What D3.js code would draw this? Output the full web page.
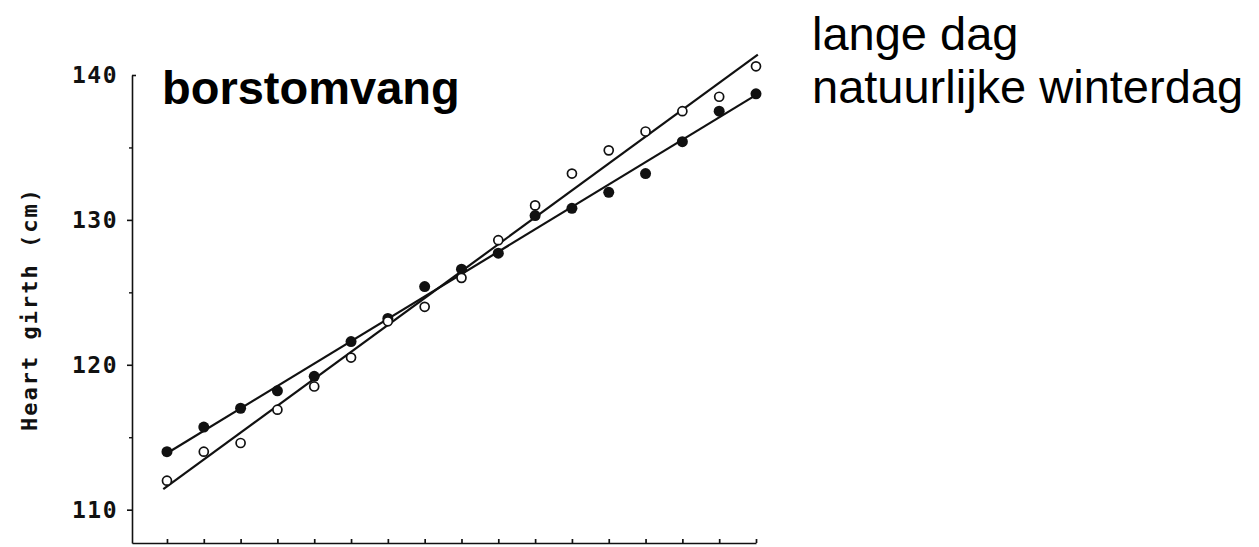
<!DOCTYPE html>
<html>
<head>
<meta charset="utf-8">
<script src="https://cdn.jsdelivr.net/npm/d3@7"></script>
<style>
  body { margin: 0; background: #fff; }
  svg { display: block; }
  .mono { font-family: "DejaVu Sans Mono", "Liberation Mono", monospace; font-weight: bold; fill: #111; }
  .sans { font-family: "Liberation Sans", Arial, sans-serif; fill: #000; }
</style>
</head>
<body>
<svg id="chart" width="1259" height="547"></svg>
<script>
// Measurement index (equally spaced sampling dates)
const samples = [0, 1, 2, 3, 4, 5, 6, 7, 8, 9, 10, 11, 12, 13, 14, 15, 16];
// Heart girth (cm), open circles
const longDay = [112.0, 114.0, 114.6, 116.9, 118.5, 120.5, 123.0, 124.0, 126.0, 128.6, 131.0, 133.2, 134.8, 136.1, 137.5, 138.5, 140.6];
// Heart girth (cm), filled circles
const winterDay = [114.0, 115.7, 117.0, 118.2, 119.2, 121.6, 123.2, 125.4, 126.6, 127.7, 130.3, 130.8, 131.9, 133.2, 135.4, 137.5, 138.7];
const yMajorTicks = [110, 120, 130, 140];
const yMinorTicks = [115, 125, 135];
const legendLabels = ["lange dag", "natuurlijke winterdag"];
const titleText = "borstomvang";
const yTitle = "Heart girth (cm)";

const svg = d3.select("#chart");
const axisX = 132, axisBottom = 543;

const x = d3.scaleLinear().domain([-0.95, 16]).range([axisX, 756]);
const y = d3.scaleLinear().domain([107.7, 140]).range([axisBottom, 75]);

// Bottom axis: ticks pointing up, no labels
const gx = svg.append("g")
  .attr("transform", `translate(0,${axisBottom})`)
  .call(d3.axisBottom(x).tickValues(samples).tickSize(-4).tickSizeOuter(0).tickFormat(""));
gx.selectAll("path, line").attr("stroke", "#111").attr("stroke-width", 1.7);

// Left axis: major ticks outward, minor ticks shorter
const gy = svg.append("g")
  .attr("transform", `translate(${axisX},0)`)
  .call(d3.axisLeft(y).tickValues(yMajorTicks).tickSize(5).tickSizeOuter(0).tickFormat(""));
gy.selectAll("path, line").attr("stroke", "#111").attr("stroke-width", 1.6);
// top tick turns inward
gy.selectAll(".tick").filter(d => d === 140).select("line").attr("x2", 4);

const gyMinor = svg.append("g")
  .attr("transform", `translate(${axisX},0)`)
  .call(d3.axisLeft(y).tickValues(yMinorTicks).tickSize(3).tickFormat(""));
gyMinor.select(".domain").remove();
gyMinor.selectAll("line").attr("stroke", "#111").attr("stroke-width", 1.4);

// tick labels
svg.append("g").selectAll("text")
  .data(yMajorTicks)
  .join("text")
  .attr("class", "mono")
  .attr("x", 118)
  .attr("y", d => y(d) + 8)
  .attr("text-anchor", "end")
  .style("font-size", "23px")
  .style("letter-spacing", "1.5px")
  .text(d => d);

// y axis title
svg.append("text")
  .attr("class", "mono")
  .attr("transform", "translate(37,309) rotate(-90)")
  .attr("text-anchor", "middle")
  .style("font-size", "22px")
  .style("letter-spacing", "2px")
  .text(yTitle);

// least-squares fit lines
function fit(vals) {
  const mx = d3.mean(samples), my = d3.mean(vals);
  let sxy = 0, sxx = 0;
  samples.forEach((s, i) => { sxy += (s - mx) * (vals[i] - my); sxx += (s - mx) * (s - mx); });
  const b = sxy / sxx, a = my - b * mx;
  return t => a + b * t;
}
const line = d3.line().x(d => x(d[0])).y(d => y(d[1]));
[longDay, winterDay].forEach(vals => {
  const f = fit(vals);
  const ends = [-0.1, 16.05];
  svg.append("path")
    .attr("d", line(ends.map(t => [t, f(t)])))
    .attr("fill", "none")
    .attr("stroke", "#111")
    .attr("stroke-width", 2.2);
});

// points
svg.append("g").selectAll("circle")
  .data(samples)
  .join("circle")
  .attr("cx", d => x(d))
  .attr("cy", (d, i) => y(winterDay[i]))
  .attr("r", 5.5)
  .attr("fill", "#111");

svg.append("g").selectAll("circle")
  .data(samples)
  .join("circle")
  .attr("cx", d => x(d))
  .attr("cy", (d, i) => y(longDay[i]))
  .attr("r", 4.5)
  .attr("fill", "#fff")
  .attr("stroke", "#111")
  .attr("stroke-width", 1.7);

// title
svg.append("text")
  .attr("class", "sans")
  .attr("x", 162)
  .attr("y", 104)
  .style("font-size", "47px")
  .style("font-weight", "bold")
  .text(titleText);

// legend labels
svg.append("g").selectAll("text")
  .data(legendLabels)
  .join("text")
  .attr("class", "sans")
  .attr("x", 812)
  .attr("y", (d, i) => 50 + i * 53)
  .style("font-size", "47px")
  .text(d => d);
</script>
</body>
</html>
